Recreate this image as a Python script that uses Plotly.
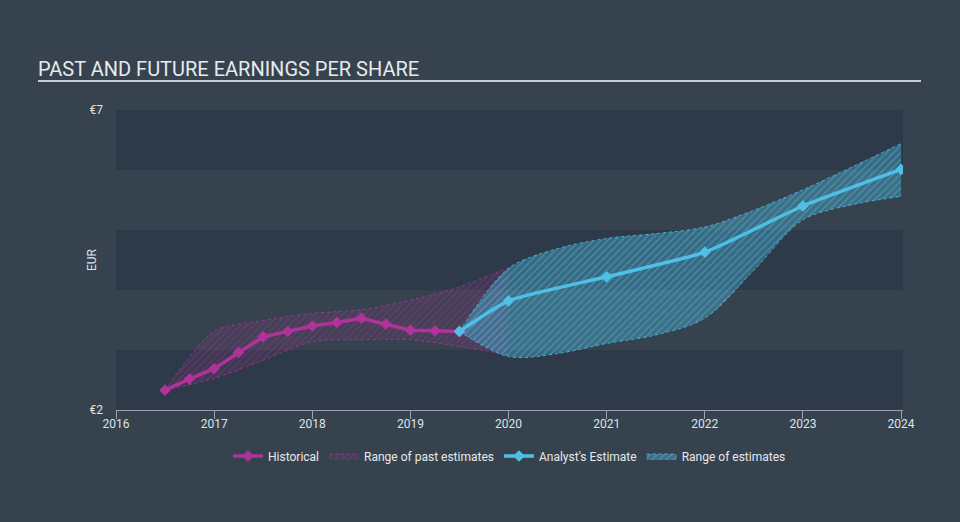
import plotly.graph_objects as go

# ---- data ----
hist_dates = [2016.5, 2016.75, 2017.0, 2017.25, 2017.5, 2017.75, 2018.0, 2018.25,
              2018.5, 2018.75, 2019.0, 2019.25, 2019.5]
hist_eps = [2.33, 2.52, 2.69, 2.96, 3.22, 3.31, 3.40, 3.46, 3.53, 3.43, 3.33, 3.32, 3.31]

past_range_dates = [2016.5, 2017.0, 2017.5, 2018.0, 2018.5, 2019.0, 2019.5, 2020.0]
past_range_high = [2.33, 3.31, 3.49, 3.61, 3.67, 3.83, 4.05, 4.37]
past_range_low = [2.33, 2.53, 2.83, 3.14, 3.17, 3.17, 3.06, 2.92]

est_dates = [2019.5, 2020.0, 2021.0, 2022.0, 2023.0, 2024.0]
est_eps = [3.31, 3.82, 4.22, 4.63, 5.40, 6.01]

est_range_dates = [2019.5, 2020.0, 2020.5, 2021.0, 2021.5, 2022.0, 2022.5, 2023.0, 2023.5, 2024.0]
est_range_high = [3.31, 4.36, 4.69, 4.86, 4.94, 5.05, 5.33, 5.67, 6.05, 6.44]
est_range_low = [3.31, 2.89, 2.94, 3.11, 3.25, 3.53, 4.33, 5.17, 5.42, 5.56]

x_ticks = [2016, 2017, 2018, 2019, 2020, 2021, 2022, 2023, 2024]
y_ticks = [2, 7]
y_tick_labels = ["€2", "€7"]

MAG = "#b0329a"
CYAN = "#4ec0e6"
PAGE_BG = "#36434f"
DARK_BAND = "#2e3a49"

fig = go.Figure()

# past range band
fig.add_trace(go.Scatter(x=past_range_dates, y=past_range_low, mode="lines",
                         line=dict(color=MAG, width=0.8, dash="dot", shape="spline", smoothing=0.8),
                         showlegend=False, hoverinfo="skip"))
fig.add_trace(go.Scatter(x=past_range_dates, y=past_range_high, mode="lines", fill="tonexty",
                         fillcolor="rgba(176,50,154,0.12)",
                         fillpattern=dict(shape="/", fgcolor="rgba(176,50,154,0.75)", size=5, solidity=0.2),
                         line=dict(color=MAG, width=0.8, dash="dot", shape="spline", smoothing=0.8),
                         name="Range of past estimates", legendrank=2, hoverinfo="skip"))

# future range band
fig.add_trace(go.Scatter(x=est_range_dates, y=est_range_low, mode="lines",
                         line=dict(color=CYAN, width=0.8, dash="dot", shape="spline", smoothing=0.9),
                         showlegend=False, hoverinfo="skip"))
fig.add_trace(go.Scatter(x=est_range_dates, y=est_range_high, mode="lines", fill="tonexty",
                         fillcolor="rgba(78,192,230,0.35)",
                         fillpattern=dict(shape="/", fgcolor="rgba(78,192,230,0.9)", size=5, solidity=0.25),
                         line=dict(color=CYAN, width=0.8, dash="dot", shape="spline", smoothing=0.9),
                         name="Range of estimates", legendrank=4, hoverinfo="skip"))

# historical
fig.add_trace(go.Scatter(x=hist_dates, y=hist_eps, mode="lines+markers", name="Historical",
                         line=dict(color=MAG, width=3.5),
                         marker=dict(symbol="diamond", size=9, color=MAG), legendrank=1))
# analyst
fig.add_trace(go.Scatter(x=est_dates, y=est_eps, mode="lines+markers", name="Analyst's Estimate",
                         line=dict(color=CYAN, width=3.5, shape="spline", smoothing=0.5),
                         marker=dict(symbol="diamond", size=9, color=CYAN), legendrank=3))

# light bands
shapes = []
for y0, y1 in [(3, 4), (5, 6)]:
    shapes.append(dict(type="rect", xref="x domain", yref="y", x0=0, x1=1, y0=y0, y1=y1,
                       fillcolor=PAGE_BG, line=dict(width=0), layer="below"))
# title underline
shapes.append(dict(type="line", xref="paper", yref="paper", x0=(38 - 116) / 787, x1=(921 - 116) / 787,
                   y0=1.0 + 29 / 300, y1=1.0 + 29 / 300, line=dict(color="#c8ccd0", width=2)))

fig.update_layout(
    width=960, height=522,
    paper_bgcolor=PAGE_BG, plot_bgcolor=DARK_BAND,
    margin=dict(l=116, r=57, t=110, b=112),
    shapes=shapes,
    title=dict(text="PAST AND FUTURE EARNINGS PER SHARE", x=38 / 960, xanchor="left",
               y=1 - 69 / 522, yanchor="middle",
               font=dict(family="Roboto", size=20, color="#e8eaec")),
    font=dict(family="Roboto", color="#dfe2e5", size=12),
    annotations=[dict(text="EUR", textangle=-90, xref="paper", yref="paper",
                      x=(92 - 116) / 787, y=(410 - 260) / 300, xanchor="center", yanchor="middle",
                      showarrow=False, font=dict(size=12, color="#dfe2e5"))],
    legend=dict(orientation="h", x=0.5, xanchor="center", y=-0.105, yanchor="top",
                font=dict(size=12, color="#e6e8ea"), bgcolor="rgba(0,0,0,0)",
                traceorder="normal", itemwidth=30, tracegroupgap=0),
    xaxis=dict(range=[2016, 2024.02], tickvals=x_ticks, ticktext=[str(v) for v in x_ticks],
               showgrid=False, zeroline=False, showline=True, linecolor="#9aa3ad", linewidth=1,
               ticks="outside", ticklen=8, tickcolor="#9aa3ad", tickfont=dict(size=12, color="#dfe2e5"),
               ticklabelstandoff=-5),
    yaxis=dict(range=[2, 7], tickvals=y_ticks, ticktext=y_tick_labels, showgrid=False, zeroline=False,
               showline=False, ticks="", tickfont=dict(size=12, color="#dfe2e5"), ticklabelstandoff=12),
    showlegend=True,
)

fig.write_html("out.html", config={"displayModeBar": False},
               post_script="document.body.style.margin='0';")
